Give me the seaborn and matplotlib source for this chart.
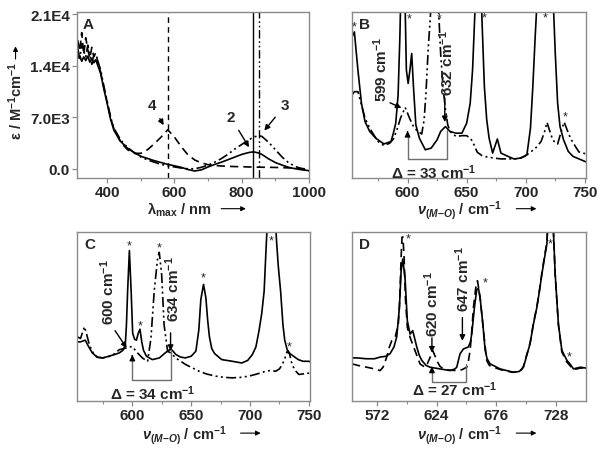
import matplotlib
matplotlib.use("Agg")
import matplotlib.pyplot as plt
import seaborn as sns

# ---------- data: panel A (UV-vis) ----------
wl = [312, 318, 324, 330, 336, 342, 348, 354, 360, 366, 372, 380, 390, 400, 410, 420, 440, 460, 480, 500,
      520, 540, 560, 580, 600, 620, 640, 660, 680, 700, 720, 740, 760, 780, 800, 820, 835, 850, 860, 880,
      900, 920, 940, 960, 980, 1000]
eps_2 = [15000, 15400, 14600, 15200, 14700, 15300, 14500, 15000, 14400, 14800, 14000, 13000, 10800, 8800, 6700,
         5200, 3700, 2800, 2200, 1700, 1400, 1100, 850, 600, 400, 200, -100, -300, -150, 250, 600, 900, 1250,
         1600, 1950, 2200, 2300, 2150, 1950, 1350, 850, 500, 200, 0, -150, -250]
eps_3 = [16500, 14800, 17000, 16000, 15200, 16800, 15500, 14200, 15600, 14300, 14600, 13500, 11200, 9100, 7000,
         5500, 3900, 2900, 2200, 1600, 1200, 900, 600, 400, 250, 100, 0, 0, 200, 500, 900, 1400, 2000, 2700,
         3300, 3900, 4300, 4500, 4400, 3600, 2600, 1600, 800, 300, 0, -300]
eps_4 = [17500, 16000, 18500, 15500, 17800, 16200, 15000, 16500, 15200, 15800, 14500, 13200, 11000, 9000, 6900,
         5400, 3600, 2600, 2100, 2100, 2600, 3400, 4300, 5300, 4300, 3000, 1900, 1200, 800, 550, 450, 380, 330,
         300, 280, 250, 230, 220, 210, 200, 180, 150, 120, 80, 30, -50]
lambda_max = [580, 835, 852]   # compounds 4, 2, 3
a_yticks = [0, 7000, 14000, 21000]
a_yticklabels = ["0.0", "7.0E3", "1.4E4", "2.1E4"]

# ---------- data: panel B (Raman, arb. units) ----------
b_x1 = [553, 555, 558, 561, 564, 568, 573, 580, 586, 588, 590, 592, 593.5, 595.5, 597.5, 599, 600.5, 602, 603.5, 605,
        607, 610, 615, 620, 625, 628, 632, 636, 641, 646, 650, 653, 655, 657, 660, 663, 665, 667, 669, 672,
        676, 679, 685, 690, 696, 701, 704, 706, 708, 712, 717, 722, 725, 727, 729, 732, 736, 740, 745, 750, 752]
b_y1 = [85, 88, 65, 45, 34, 28, 24, 20.5, 22, 27, 33, 50, 85, 150, 120, 65, 57, 65, 75, 55,
        32, 24, 17, 18, 23, 28, 31, 28, 27, 27, 33, 45, 65, 100, 160, 95, 55, 35, 24, 15,
        23.5, 15, 13, 11.5, 12, 14, 30, 55, 85, 140, 180, 130, 75, 45, 31, 23, 16, 13, 11.5, 10, 9.5]
b_x2 = [553, 555, 558, 561, 564, 568, 571, 575, 580, 585, 588, 591, 594, 598, 602, 605, 608, 612, 614, 615.5,
        617.5, 620, 623, 626, 628, 630, 632, 634, 636, 641, 646, 650, 653, 655, 659, 663, 667, 673, 679, 686,
        693, 699, 704, 709, 713, 716, 718, 720, 722.5, 725, 727, 730, 732.5, 735, 738, 742, 745, 750, 752]
b_y2 = [50, 52, 52, 44, 36, 30, 26.5, 22, 19.5, 21, 23.5, 29, 36, 42.5, 35.5, 31, 28.5, 26.5, 35, 50,
        78, 105, 140, 105, 75, 55, 41.5, 32, 28, 25, 25.5, 25.5, 24, 22, 15.5, 13.5, 12.7, 12, 11.5, 11.5,
        11.5, 13, 15.5, 18.5, 22, 28, 33.5, 29, 23.7, 21, 20.5, 28, 33.7, 29, 23.7, 19, 15.7, 14.7, 14.5]

# ---------- data: panel C ----------
c_x1 = [553, 556, 560, 563, 566, 570, 575, 580, 585, 589, 592, 594, 595, 596, 597.5, 599, 600.3, 602, 603.5, 605,
        606.5, 608, 609.5, 612, 617, 623, 628, 632, 634, 637, 641, 645, 650, 654, 656.5, 658.2, 660.5, 662.5, 664, 665.5,
        667.5, 670, 676, 685, 693, 698, 702, 705, 707.5, 710, 712, 713.5, 715, 718, 721, 722.5, 724, 726, 728, 729.5,
        731.5, 734, 736, 741, 745, 750, 752]
c_y1 = [35, 35, 36, 32, 28.5, 26, 25.5, 26.5, 27.5, 28.5, 30, 33, 45, 65, 89, 65, 40, 36.5, 36, 40,
        42.5, 35, 30, 26.5, 24.5, 25.5, 28.5, 30.5, 30, 27.5, 26, 25.5, 26.5, 29.5, 42, 60, 69, 61, 48, 38,
        31, 28, 24.5, 23.5, 22.5, 24, 27.5, 32, 41, 52, 65, 88, 110, 140, 115, 95, 80, 65, 45, 36,
        30.5, 28, 27, 24.5, 23.5, 23.5, 23]
c_x2 = [553, 556, 559.3, 561, 563.6, 567, 570.6, 575, 580.5, 585, 589, 594.6, 599.7, 602, 604.5, 608.7, 613, 615.8,
        618.6, 621.5, 622.9, 624.9, 627, 630, 632.8, 637, 645.5, 656.8, 663, 670.9, 678, 685, 692, 699, 706, 713.3,
        717, 721.8, 725, 727.4, 729.5, 731.6, 733.5, 735.8, 738.5, 741.5, 745, 748.6, 752]
c_y2 = [38, 37, 44, 40, 33, 28, 25.8, 25.5, 26.4, 28, 30.4, 31.3, 32.3, 30.5, 28.4, 25.4, 23.5, 37,
        65, 84.5, 88, 75, 45, 29.4, 28.4, 25.4, 21.5, 17.6, 16, 14.7, 14, 13.7, 14, 14.7, 16, 17.6,
        18, 17.6, 19, 21.5, 25, 29.4, 28, 21.5, 18, 15.7, 16, 16.6, 16]

# ---------- data: panel D ----------
d_x1 = [550.5, 555, 563, 570, 575, 580, 583.6, 587, 589.4, 591.7, 593.2, 594.6, 596.6, 598.6, 601, 603.3, 605, 606.8,
        609, 611.2, 615, 618.4, 627, 635.8, 640, 641.6, 643, 644.5, 647.4, 651.7, 653.5, 654.7, 657, 659, 660.5,
        661.9, 664.3, 666.3, 668, 670.6, 679.3, 690.9, 696, 699.6, 702.5, 705.4, 708.3, 711.3, 713.5, 715.6, 718,
        720, 722.5, 725.7, 727.2, 730, 733, 737.4, 740, 743.1, 746, 749, 754]
d_y1 = [25.5, 25.5, 25, 25, 26, 26.5, 28, 32, 38, 55, 77, 84, 73, 47.5, 39.6, 41.6, 37, 32,
        27, 24, 21, 20, 19, 18, 19, 20, 24, 28, 30.8, 32, 35, 40, 55.5, 66, 66.5,
        61, 45.6, 30, 25, 22, 19, 17, 17.5, 20, 27, 34, 45.6, 55.5, 65, 75, 85,
        93, 130, 100, 75, 45.6, 30, 24, 22, 19, 19.5, 20, 19.5]
d_x2 = [550.5, 556, 563.3, 570, 574.9, 577.5, 580.7, 583, 585.1, 588, 590.8, 592, 593.2, 594, 594.8, 595.8, 597,
        598.6, 601, 603, 605.3, 609.7, 614, 616, 618.4, 620.7, 622.5, 624.2, 627, 630, 635, 641.6, 646, 650.3,
        651.8, 653.2, 654.5, 656.1, 658.2, 659.6, 661.9, 663.3, 664.8, 667.7, 670, 673.5, 680, 690, 697, 699.6,
        702.5, 705.4, 708.3, 711.3, 713.5, 715.6, 718, 720, 722.5, 725.7, 727.2, 730, 733, 737.4, 740, 743.1,
        746, 749, 754]
d_y2 = [22, 21, 20, 19, 18, 20, 26, 32, 35.7, 37.7, 45.6, 60, 85, 97, 97, 85, 60,
        43.6, 37.7, 34, 29.8, 21.9, 20, 22, 25.8, 29.8, 27, 23.9, 20.5, 19, 18.3, 18, 18.5, 20,
        24, 29.8, 40, 55.5, 67.3, 71.2, 61.3, 52, 41.6, 23.9, 21, 20, 18.5, 17, 17.5, 20.5,
        27.5, 34.5, 46, 56, 65.5, 75.5, 86, 94, 130, 100, 75, 45, 29, 23, 21, 18.5,
        19, 19.5, 19.5]

bc_ticks = [600, 650, 700, 750]
d_ticks = [572, 624, 676, 728]
panel_labels = ["A", "B", "C", "D"]

# ---------- style ----------
sns.set_style("ticks")
plt.rcParams["font.family"] = ["Liberation Sans", "DejaVu Sans"]
plt.rcParams["font.weight"] = "bold"
plt.rcParams["mathtext.fontset"] = "custom"
plt.rcParams["mathtext.default"] = "bf"
plt.rcParams["mathtext.bf"] = "Liberation Sans:bold"
plt.rcParams["mathtext.rm"] = "Liberation Sans:bold"
plt.rcParams["mathtext.it"] = "Liberation Sans:italic"

GREY = "#8a8a8a"
DDOT = (0, (6, 2, 1.2, 2, 1.2, 2))
LW = 1.2

fig = plt.figure(figsize=(6.04, 4.56), dpi=100)
axA = fig.add_axes([0.1275, 0.6075, 0.384, 0.364])
axB = fig.add_axes([0.5828, 0.6075, 0.3874, 0.364])
axC = fig.add_axes([0.1275, 0.1184, 0.3858, 0.3706])
axD = fig.add_axes([0.5828, 0.1184, 0.3874, 0.3706])


def style_axes(ax):
    for s in ax.spines.values():
        s.set_visible(True)
        s.set_color(GREY)
        s.set_linewidth(1.0)
    ax.tick_params(axis="both", which="major", direction="out", length=3.5, width=0.9,
                   color=GREY, labelsize=11, pad=1.5)
    ax.tick_params(axis="both", which="minor", direction="out", length=2.5, width=0.8, color=GREY)
    for lab in ax.get_xticklabels() + ax.get_yticklabels():
        lab.set_fontweight("bold")


def axis_arrow_x(ax, text, xt, x0, x1, y):
    # y is the text baseline in axes fraction; the arrow sits a little above it
    ax.text(xt, y, text, transform=ax.transAxes, ha="center", va="baseline", fontsize=10.5)
    ax.annotate("", xy=(x1, y + 0.03), xytext=(x0, y + 0.03), xycoords="axes fraction",
                arrowprops=dict(arrowstyle="-|>", lw=0.8, color="k", mutation_scale=7),
                annotation_clip=False)


def star(ax, x, y):
    ax.text(x, y, "*", ha="center", va="center", fontsize=9, fontweight="normal", clip_on=False)


def peak_label(ax, x, y, text, x0, y0, x1, y1):
    ax.text(x, y, text, rotation=90, ha="center", va="center", fontsize=11)
    ax.annotate("", xy=(x1, y1), xytext=(x0, y0),
                arrowprops=dict(arrowstyle="-|>", lw=1.0, color="k", mutation_scale=8))


def bracket(ax, xl, xr, ybot, ytop_l, ytop_r, text, xt, yt):
    ax.plot([xr, xr, xl, xl], [ytop_r, ybot, ybot, ytop_l - 3], color="#6e6e6e", lw=1.0)
    ax.annotate("", xy=(xl, ytop_l), xytext=(xl, ytop_l - 4),
                arrowprops=dict(arrowstyle="-|>", lw=1.0, color="k", mutation_scale=8))
    ax.text(xt, yt, text, ha="center", va="center", fontsize=11)


# ---------- panel A ----------
sns.lineplot(x=wl, y=eps_2, ax=axA, color="k", lw=LW, estimator=None, sort=False)
sns.lineplot(x=wl, y=eps_4, ax=axA, color="k", lw=LW, linestyle=(0, (5, 3)), estimator=None, sort=False)
sns.lineplot(x=wl, y=eps_3, ax=axA, color="k", lw=LW, linestyle=DDOT, estimator=None, sort=False)
axA.axvline(lambda_max[0], color="k", lw=1.0, linestyle=(0, (4, 3)))
axA.axvline(lambda_max[1], color="k", lw=1.0)
axA.axvline(lambda_max[2], color="k", lw=1.0, linestyle=DDOT)
axA.set_xlim(310, 1000)
axA.set_ylim(-1250, 21300)
axA.set_xticks([400, 600, 800, 1000])
axA.set_xticks([500, 700, 900], minor=True)
axA.set_yticks(a_yticks)
axA.set_yticklabels(a_yticklabels)
axA.annotate("4", xy=(572, 5600), xytext=(532, 8700), fontsize=11, ha="center", va="center",
             arrowprops=dict(arrowstyle="-|>", lw=1.0, color="k", mutation_scale=8, shrinkA=3))
axA.annotate("2", xy=(826, 2600), xytext=(766, 7100), fontsize=11, ha="center", va="center",
             arrowprops=dict(arrowstyle="-|>", lw=1.0, color="k", mutation_scale=8, shrinkA=3))
axA.annotate("3", xy=(862, 4900), xytext=(930, 8700), fontsize=11, ha="center", va="center",
             arrowprops=dict(arrowstyle="-|>", lw=1.0, color="k", mutation_scale=8, shrinkA=3))
axA.text(0.025, 0.93, panel_labels[0], transform=axA.transAxes, fontsize=11, va="center")
axA.text(-0.265, 0.47, "ε / M$^{-1}$cm$^{-1}$", transform=axA.transAxes, rotation=90,
         ha="center", va="center", fontsize=10.5)
axA.annotate("", xy=(-0.265, 0.81), xytext=(-0.265, 0.70), xycoords="axes fraction",
             arrowprops=dict(arrowstyle="-|>", lw=0.8, color="k", mutation_scale=7), annotation_clip=False)
axis_arrow_x(axA, "λ$_{max}$ / nm", 0.44, 0.61, 0.74, -0.215)
style_axes(axA)

# ---------- panels B, C, D ----------
nu_label = r"$\mathit{\nu}_{\mathit{(M{-}O)}}$ / cm$^{-1}$"

sns.lineplot(x=b_x1, y=b_y1, ax=axB, color="k", lw=LW, estimator=None, sort=False)
sns.lineplot(x=b_x2, y=b_y2, ax=axB, color="k", lw=LW, linestyle=DDOT, estimator=None, sort=False)
axB.set_xlim(553, 751)
axB.set_ylim(0, 100)
axB.set_xticks(bc_ticks)
axB.set_xticks([575, 625, 675, 725], minor=True)
for sx, sy in [(555, 91), (601, 96), (627, 96), (665, 96.5), (716.5, 96.5), (733.5, 37)]:
    star(axB, sx, sy)
peak_label(axB, 577, 66, "599 cm$^{-1}$", 583, 46, 597, 41.5)
peak_label(axB, 633, 70, "632 cm$^{-1}$", 631.5, 50, 631.5, 32)
bracket(axB, 600, 633, 11.5, 30, 29, "Δ = 33 cm$^{-1}$", 622, 4)
axB.text(0.03, 0.93, panel_labels[1], transform=axB.transAxes, fontsize=11, va="center")
axis_arrow_x(axB, nu_label, 0.46, 0.69, 0.80, -0.215)

sns.lineplot(x=c_x1, y=c_y1, ax=axC, color="k", lw=LW, estimator=None, sort=False)
sns.lineplot(x=c_x2, y=c_y2, ax=axC, color="k", lw=LW, linestyle=DDOT, estimator=None, sort=False)
axC.set_xlim(553, 751)
axC.set_ylim(0, 100)
axC.set_xticks(bc_ticks)
axC.set_xticks([575, 625, 675, 725], minor=True)
for sx, sy in [(597.5, 92), (607, 45), (623, 91), (660.5, 73), (718, 95), (733.5, 32.5)]:
    star(axC, sx, sy)
peak_label(axC, 579, 65, "600 cm$^{-1}$", 584, 43, 596.5, 30)
peak_label(axC, 634.5, 67, "634 cm$^{-1}$", 632.5, 42, 632.5, 28)
bracket(axC, 600, 633, 12.5, 29, 30, "Δ = 34 cm$^{-1}$", 617, 5)
axC.text(0.03, 0.93, panel_labels[2], transform=axC.transAxes, fontsize=11, va="center")
axis_arrow_x(axC, nu_label, 0.46, 0.69, 0.80, -0.22)

sns.lineplot(x=d_x1, y=d_y1, ax=axD, color="k", lw=LW, estimator=None, sort=False)
sns.lineplot(x=d_x2, y=d_y2, ax=axD, color="k", lw=LW, linestyle=(0, (5, 3)), estimator=None, sort=False)
axD.set_xlim(550.5, 754)
axD.set_ylim(0, 100)
axD.set_xticks(d_ticks)
axD.set_xticks([598, 650, 702], minor=True)
for sx, sy in [(599, 96), (666.5, 70), (723, 93), (739, 26.5)]:
    star(axD, sx, sy)
peak_label(axD, 619.5, 58, "620 cm$^{-1}$", 620, 39, 620, 27)
peak_label(axD, 646.8, 73, "647 cm$^{-1}$", 646.5, 51, 646.5, 34)
bracket(axD, 620, 649.5, 11, 22, 22, "Δ = 27 cm$^{-1}$", 640, 7)
axD.text(0.03, 0.93, panel_labels[3], transform=axD.transAxes, fontsize=11, va="center")
axis_arrow_x(axD, nu_label, 0.46, 0.69, 0.80, -0.22)

for ax in (axB, axC, axD):
    ax.set_yticks([])
    ax.set_xlabel("")
    ax.set_ylabel("")
    style_axes(ax)
axA.set_xlabel("")
axA.set_ylabel("")

fig.savefig("out.png", dpi=100)
